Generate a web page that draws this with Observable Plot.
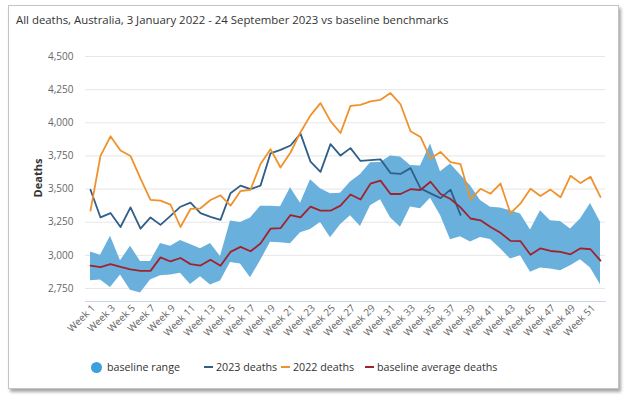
<!DOCTYPE html>
<html>
<head>
<meta charset="utf-8">
<script src="https://cdn.jsdelivr.net/npm/d3@7"></script>
<script src="https://cdn.jsdelivr.net/npm/@observablehq/plot@0.6"></script>
<style>
  html, body { margin: 0; padding: 0; background: #fff; width: 628px; height: 395px; overflow: hidden; font-family: "Open Sans", sans-serif; }
  #frame { position: absolute; left: 8px; top: 5px; width: 609px; height: 382px; border: 1px solid #c4c4c4; box-shadow: 2px 3px 3px rgba(0,0,0,0.35); background: #fff; }
  #title { position: absolute; left: 16px; top: 12px; font-size: 11.4px; color: #333; white-space: nowrap; }
  #chart { position: absolute; left: 0; top: 0; }
  #ylabel { position: absolute; left: 37px; top: 178px; transform: translate(-50%, -50%) rotate(-90deg); font-size: 11px; font-weight: bold; color: #333; white-space: nowrap; }
  .legend { position: absolute; top: 359px; font-size: 10.7px; color: #333; white-space: nowrap; display: flex; align-items: center; height: 16px; }
  .sym-dot { display: inline-block; width: 11px; height: 11px; border-radius: 50%; background: #3d9fdc; margin-right: 5px; }
  .sym-line { display: inline-block; width: 9px; height: 2px; margin-right: 3px; }
</style>
</head>
<body>
<div id="frame"></div>
<div id="chart"></div>
<div id="title">All deaths, Australia, 3 January 2022 - 24 September 2023 vs baseline benchmarks</div>
<div id="ylabel">Deaths</div>
<div id="legend"></div>
<script>
// Weeks (categories)
const weeks = [1,2,3,4,5,6,7,8,9,10,11,12,13,14,15,16,17,18,19,20,21,22,23,24,25,26,
  27,28,29,30,31,32,33,34,35,36,37,38,39,40,41,42,43,44,45,46,47,48,49,50,51,52];
const weekTicks = [1,3,5,7,9,11,13,15,17,19,21,23,25,27,29,31,33,35,37,39,41,43,45,47,49,51];
const yTicks = [2750, 3000, 3250, 3500, 3750, 4000, 4250, 4500];

// 2022 deaths (weeks 1-52)
const deaths2022 = [3337,3750,3898,3791,3750,3579,3418,3413,3383,3214,3350,3355,3418,3452,3375,3485,
  3495,3689,3801,3663,3776,3929,4056,4148,4013,3923,4128,4135,4161,4173,4224,4140,3936,3893,3730,3780,
  3703,3688,3423,3502,3465,3542,3316,3392,3502,3447,3496,3438,3600,3545,3593,3440];

// 2023 deaths (weeks 1-38)
const deaths2023 = [3495,3286,3319,3214,3362,3201,3286,3230,3298,3367,3398,3319,3291,3268,3469,3526,
  3500,3526,3770,3796,3829,3918,3707,3630,3839,3753,3809,3712,3719,3724,3621,3614,3658,3505,3468,3432,
  3496,3306];

// Baseline average deaths
const baselineAvg = [2923,2911,2934,2913,2895,2883,2883,2985,2954,2980,2934,2923,2967,2921,3026,3064,
  3031,3089,3201,3205,3304,3286,3367,3337,3337,3375,3459,3421,3541,3564,3463,3463,3499,3493,3555,3463,
  3425,3362,3278,3264,3214,3170,3109,3107,3005,3053,3033,3026,3008,3053,3046,2960];

// Baseline range (upper / lower)
const baselineHigh = [3026,3000,3145,2959,3069,2954,2954,3089,3069,3112,3082,3050,3089,2992,3260,3247,
  3281,3370,3370,3367,3510,3393,3571,3503,3464,3469,3554,3610,3699,3700,3750,3742,3677,3674,3840,3630,
  3690,3606,3525,3413,3362,3357,3337,3312,3191,3337,3261,3256,3198,3274,3392,3249];
const baselineLow = [2809,2814,2758,2852,2737,2717,2814,2847,2852,2865,2781,2839,2776,2806,2946,2934,
  2832,2959,3099,3095,3087,3171,3196,3247,3133,3230,3298,3217,3375,3420,3284,3213,3364,3352,3430,3300,
  3118,3140,3100,3135,3120,3050,2972,2997,2872,2905,2897,2884,2922,2967,2905,2779];

const colors = { band: "#6ab0dd", bandLegend: "#3d9fdc", y2023: "#2e5f8a", y2022: "#f0922b", avg: "#a1222d" };

const rows = weeks.map((w, i) => ({ week: w, low: baselineLow[i], high: baselineHigh[i], avg: baselineAvg[i], d2022: deaths2022[i] }));
const rows2023 = deaths2023.map((v, i) => ({ week: weeks[i], v }));

const chart = Plot.plot({
  width: 628,
  height: 395,
  marginLeft: 85,
  marginRight: 23,
  marginTop: 56,
  marginBottom: 94,
  style: { fontFamily: "Open Sans, sans-serif", fontSize: "10px", color: "#666", background: "transparent" },
  x: { type: "linear", domain: [0.5, 52.5] },
  y: { domain: [2652, 4500] },
  marks: [
    Plot.gridY(yTicks, { stroke: "#e6e6e6", strokeOpacity: 1 }),
    Plot.areaY(rows, { x: "week", y1: "low", y2: "high", fill: colors.band, fillOpacity: 1 }),
    Plot.lineY(rows2023, { x: "week", y: "v", stroke: colors.y2023, strokeWidth: 1.8 }),
    Plot.lineY(rows, { x: "week", y: "d2022", stroke: colors.y2022, strokeWidth: 1.8 }),
    Plot.lineY(rows, { x: "week", y: "avg", stroke: colors.avg, strokeWidth: 1.8 }),
    Plot.frame({ anchor: "bottom", stroke: "#ccd6eb" }),
    Plot.axisY(yTicks, { tickSize: 0, tickPadding: 12, tickFormat: d3.format(","), label: null, fill: "#666" }),
    Plot.axisX(weekTicks, { tickSize: 0, tickPadding: 5, dx: 3, tickRotate: -45, tickFormat: d => "Week " + d, label: null, fill: "#666" })
  ]
});
document.getElementById("chart").appendChild(chart);

// Legend
const legendItems = [
  { label: "baseline range", type: "dot", color: colors.bandLegend, left: 91 },
  { label: "2023 deaths", type: "line", color: colors.y2023, left: 204 },
  { label: "2022 deaths", type: "line", color: colors.y2022, left: 281 },
  { label: "baseline average deaths", type: "line", color: colors.avg, left: 365 }
];
const lg = document.getElementById("legend");
legendItems.forEach(it => {
  const d = document.createElement("div");
  d.className = "legend";
  d.style.left = it.left + "px";
  const s = document.createElement("span");
  s.className = it.type === "dot" ? "sym-dot" : "sym-line";
  s.style.background = it.color;
  d.appendChild(s);
  d.appendChild(document.createTextNode(it.label));
  lg.appendChild(d);
});
</script>
</body>
</html>
